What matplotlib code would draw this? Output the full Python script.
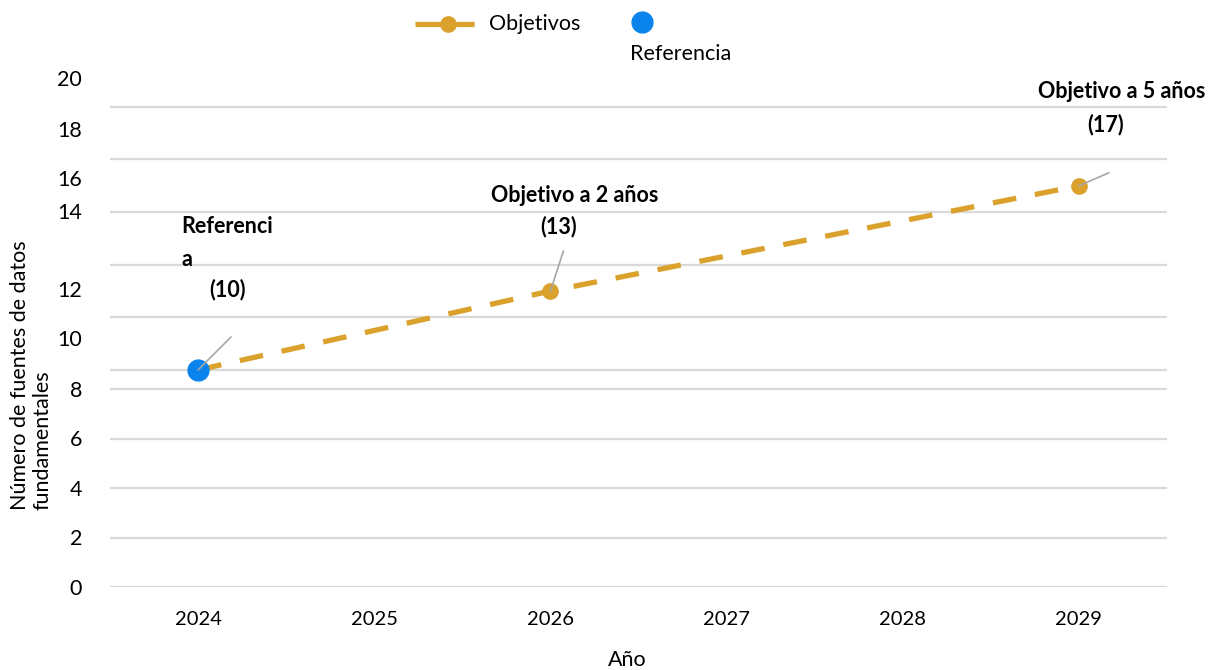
import matplotlib.pyplot as plt
from matplotlib.lines import Line2D

plt.rcParams['font.family'] = ['Lato', 'DejaVu Sans']

years = [2024, 2025, 2026, 2027, 2028, 2029]
ref_year = [2024]
ref_value = [10]
goal_years = [2024, 2026, 2029]
goal_values = [10, 13, 17]
goal_labels = [['Referenci', 'a'], ['Objetivo a 2 años'], ['Objetivo a 5 años']]
ytick_labels = ['0', '2', '4', '6', '8', '10', '12', '14', '16', '18', '20']

gold = '#DAA12D'
blue = '#0A84EC'
grid_c = '#D9D9D9'
fs = 15.5

W, H = 1222, 670
fig = plt.figure(figsize=(W / 100, H / 100), dpi=100)
ax = fig.add_axes([110 / W, 1 - 587 / H, (1167 - 110) / W, (587 - 70) / H])
ax.set_xlim(2023.5, 2029.5)
ax.set_ylim(1.75, 21.4)

# gridlines: two uneven bands, as laid out in the source slide
grid_lo = [1.75, 3.63, 5.51, 7.39, 9.27]
grid_hi = [10, 12, 14, 16, 18, 20]
for g in grid_lo + grid_hi:
    ax.axhline(g, color=grid_c, lw=1.6, zorder=0)

ytick_pos = [1.75, 3.65, 5.51, 7.41, 9.28, 11.22, 13.08, 16.05, 17.30, 19.16, 21.10]
ax.set_yticks(ytick_pos, ytick_labels)
ax.set_xticks(years, [str(y) for y in years])
ax.tick_params(axis='y', length=0, pad=20, labelsize=fs)
ax.tick_params(axis='x', length=0, pad=17, labelsize=14.5)
for s in ax.spines.values():
    s.set_visible(False)

ax.plot(goal_years, goal_values, color=gold, lw=3.8, dashes=(4.5, 3.6),
        marker='o', markersize=11, markevery=[1, 2], zorder=3)
ax.plot(ref_year, ref_value, 'o', color=blue, markersize=15, zorder=4)

# leader lines and bold labels (offsets in pixels from each point)
leaders = [(33, 33), (13, 40), (30, 13)]
name_off = [(-17, 143), (24, 96), (43, 94)]
name_ha = ['left', 'center', 'center']
val_off = [(29, 80), (8, 64), (27, 61)]
for i, (x, v) in enumerate(zip(goal_years, goal_values)):
    ax.annotate('', xy=(x, v), xytext=leaders[i], textcoords='offset pixels',
                arrowprops=dict(arrowstyle='-', color='#A6A6A6', lw=1.2,
                                shrinkA=0, shrinkB=0), zorder=5)
    for k, line in enumerate(goal_labels[i]):
        dx, dy = name_off[i]
        ax.annotate(line, xy=(x, v), xytext=(dx, dy - 33 * k),
                    textcoords='offset pixels', ha=name_ha[i], va='center',
                    fontsize=fs, fontweight='bold')
    ax.annotate(f'({v})', xy=(x, v), xytext=val_off[i],
                textcoords='offset pixels', ha='center', va='center',
                fontsize=fs, fontweight='bold')

fig.text(627 / W, 1 - 660 / H, 'Año', ha='center', va='center', fontsize=fs)
fig.text(31 / W, 1 - 510 / H, 'Número de fuentes de datos\nfundamentales',
         rotation=90, ha='center', va='bottom', multialignment='left',
         fontsize=fs, linespacing=1.15)

# legend
fig.add_artist(Line2D([415 / W, 480 / W], [1 - 24 / H, 1 - 24 / H],
                      color=gold, lw=3.8, dashes=(5, 1.2),
                      transform=fig.transFigure))
fig.add_artist(Line2D([448 / W], [1 - 24 / H], marker='o', markersize=11,
                      color=gold, transform=fig.transFigure))
fig.text(489 / W, 1 - 24 / H, 'Objetivos', ha='left', va='center', fontsize=fs)
fig.add_artist(Line2D([642 / W], [1 - 22 / H], marker='o', markersize=15,
                      color=blue, lw=0, transform=fig.transFigure))
fig.text(630 / W, 1 - 54 / H, 'Referencia', ha='left', va='center', fontsize=fs)

fig.savefig('out.png', dpi=100)
